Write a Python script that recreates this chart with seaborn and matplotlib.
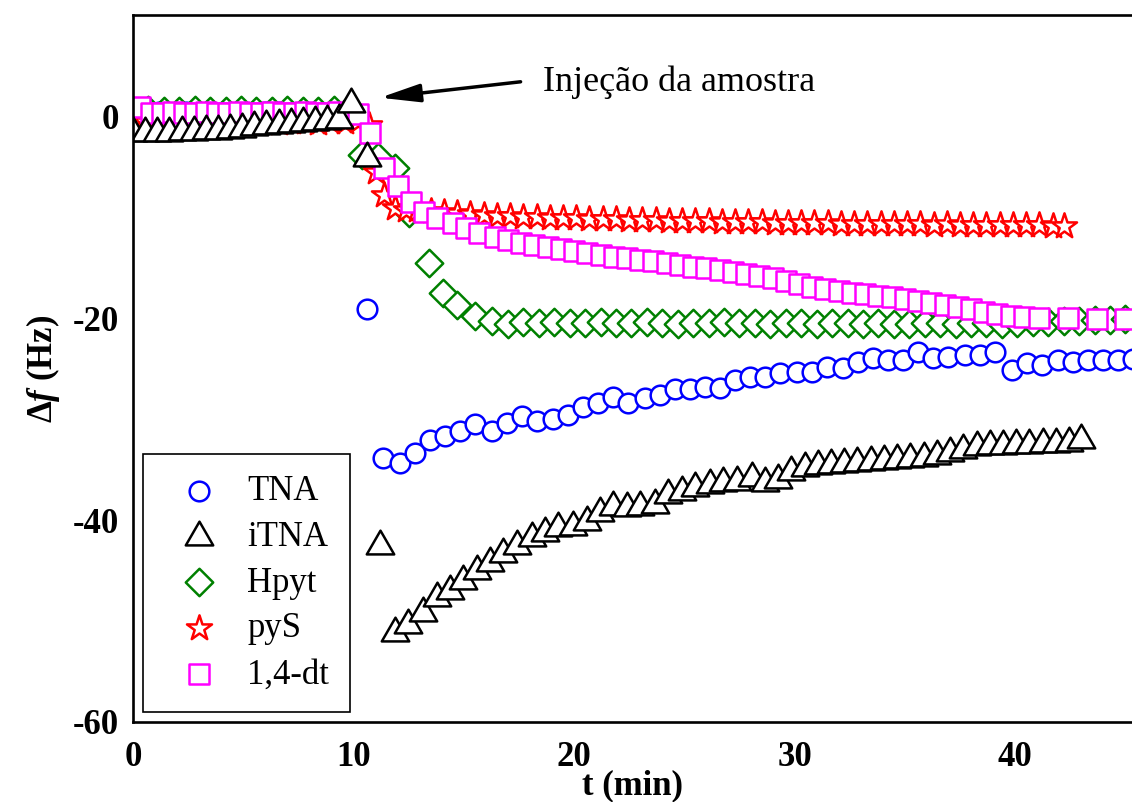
import numpy as np
import pandas as pd
import matplotlib
matplotlib.use("Agg")
import matplotlib.pyplot as plt
import seaborn as sns
from matplotlib.ticker import FixedLocator

# ---------------- data ----------------
tna_t = [0.0, 0.6, 1.2, 1.8, 2.4, 3.0, 3.6, 4.2, 4.8, 5.4, 6.0, 6.6, 7.2, 7.8, 8.4, 9.0, 9.6,
         10.6, 11.34, 12.1, 12.79, 13.47, 14.15, 14.83, 15.51, 16.28, 16.96, 17.64, 18.32, 19.05,
         19.73, 20.41, 21.09, 21.77, 22.45, 23.22, 23.9, 24.58, 25.26, 25.94, 26.62, 27.3, 27.98,
         28.66, 29.34, 30.11, 30.79, 31.47, 32.2, 32.88, 33.56, 34.24, 34.92, 35.6, 36.28, 36.96,
         37.73, 38.41, 39.09, 39.86, 40.54, 41.22, 41.95, 42.63, 43.31, 43.99, 44.67, 45.35]
tna_df = [0.4, 0.4, 0.5, 0.4, 0.5, 0.4, 0.5, 0.6, 0.5, 0.4, 0.5, 0.5, 0.4, 0.5, 0.4, 0.3, 0.2,
          -19.1, -33.8, -34.3, -33.3, -32.0, -31.6, -31.1, -30.5, -31.1, -30.4, -29.7, -30.2, -30.0,
          -29.6, -28.8, -28.4, -27.8, -28.4, -27.9, -27.6, -27.0, -27.0, -26.8, -26.9, -26.1, -25.8,
          -25.8, -25.4, -25.3, -25.3, -24.8, -24.9, -24.3, -23.9, -24.1, -24.1, -23.3, -23.9, -23.8,
          -23.6, -23.6, -23.3, -25.1, -24.4, -24.6, -24.1, -24.3, -24.1, -24.1, -24.1, -24.0]

itna_t = [0.0, 0.55, 1.1, 1.65, 2.2, 2.75, 3.3, 3.85, 4.4, 4.95, 5.5, 6.05, 6.6, 7.15, 7.7, 8.25,
          8.8, 9.35, 9.9, 10.6, 11.2, 11.88, 12.47, 13.15, 13.79, 14.38, 14.97, 15.6, 16.19, 16.78,
          17.41, 18.1, 18.68, 19.27, 19.95, 20.59, 21.18, 21.77, 22.4, 22.99, 23.67, 24.26, 24.9,
          25.49, 26.17, 26.76, 27.39, 28.07, 28.66, 29.25, 29.85, 30.45, 31.05, 31.65, 32.25, 32.85,
          33.45, 34.05, 34.65, 35.25, 35.85, 36.45, 37.05, 37.65, 38.25, 38.85, 39.45, 40.05, 40.65,
          41.25, 41.85, 42.45, 43.0]
itna_df = [-1.6, -1.6, -1.6, -1.6, -1.55, -1.5, -1.45, -1.4, -1.3, -1.2, -1.0, -0.9, -0.8, -0.7,
           -0.6, -0.5, -0.4, -0.3, 1.3, -4.1, -42.5, -51.2, -50.4, -49.2, -47.7, -47.0, -46.0, -45.0,
           -44.2, -43.3, -42.5, -41.8, -41.3, -40.8, -40.7, -40.2, -39.3, -38.7, -38.8, -38.7, -38.5,
           -37.5, -37.2, -36.8, -36.5, -36.3, -36.2, -35.8, -36.3, -36.0, -35.2, -34.8, -34.6, -34.5,
           -34.4, -34.3, -34.2, -34.1, -34.0, -33.9, -33.8, -33.6, -33.3, -33.0, -32.7, -32.6, -32.6,
           -32.5, -32.5, -32.4, -32.4, -32.3, -32.0]

hpyt_t = [0.0, 0.7, 1.4, 2.1, 2.8, 3.5, 4.2, 4.9, 5.6, 6.3, 7.0, 7.7, 8.4, 9.1, 9.7, 10.4, 11.1,
          11.9, 12.5, 13.4, 14.06, 14.7, 15.5, 16.3, 17.0, 17.7, 18.4, 19.1, 19.8, 20.5, 21.2, 21.9,
          22.6, 23.3, 24.0, 24.7, 25.4, 26.1, 26.8, 27.5, 28.2, 28.9, 29.6, 30.3, 31.0, 31.7, 32.4,
          33.1, 33.8, 34.5, 35.2, 35.9, 36.6, 37.3, 38.0, 38.7, 39.4, 40.1, 40.8, 41.5, 42.2, 42.9,
          43.6, 44.3, 45.0]
hpyt_df = [0.6, 0.7, 0.6, 0.6, 0.7, 0.6, 0.6, 0.7, 0.6, 0.6, 0.7, 0.6, 0.6, 0.7, 0.6, -3.8, -4.0,
           -5.1, -9.5, -14.5, -17.5, -18.7, -19.7, -20.2, -20.5, -20.3, -20.4, -20.3, -20.4, -20.4,
           -20.3, -20.4, -20.4, -20.3, -20.4, -20.5, -20.4, -20.4, -20.3, -20.4, -20.4, -20.5, -20.4,
           -20.4, -20.5, -20.4, -20.4, -20.5, -20.4, -20.5, -20.5, -20.4, -20.4, -20.5, -20.4, -20.4,
           -20.5, -20.4, -20.3, -20.3, -20.2, -20.2, -20.1, -20.1, -20.0]

pys_t = [0.0, 0.6, 1.2, 1.8, 2.4, 3.0, 3.6, 4.2, 4.8, 5.4, 6.0, 6.6, 7.2, 7.8, 8.4, 9.0, 9.6, 10.2,
         10.7, 11.0, 11.4, 11.9, 12.4, 12.9, 13.5, 14.1, 14.7, 15.3, 15.9, 16.5, 17.1, 17.7, 18.3,
         18.9, 19.5, 20.1, 20.7, 21.3, 21.9, 22.5, 23.1, 23.7, 24.3, 24.9, 25.5, 26.1, 26.7, 27.3,
         27.9, 28.5, 29.1, 29.7, 30.3, 30.9, 31.5, 32.1, 32.7, 33.3, 33.9, 34.5, 35.1, 35.7, 36.3,
         36.9, 37.5, 38.1, 38.7, 39.3, 39.9, 40.5, 41.1, 41.7, 42.2]
pys_df = [-0.5, -0.5, -0.6, -0.5, -0.5, -0.6, -0.5, -0.5, -0.6, -0.5, -0.5, -0.6, -0.5, -0.5,
          -0.6, -0.5, -0.5, -0.4, -0.8, -5.5, -7.7, -9.0, -9.2, -9.2, -9.3, -9.4, -9.5, -9.6, -9.7,
          -9.8, -9.8, -9.9, -9.9, -10.0, -10.0, -10.0, -10.1, -10.1, -10.1, -10.2, -10.2, -10.2,
          -10.3, -10.3, -10.3, -10.3, -10.4, -10.4, -10.4, -10.4, -10.5, -10.5, -10.5, -10.5, -10.5,
          -10.6, -10.6, -10.6, -10.6, -10.6, -10.6, -10.6, -10.7, -10.6, -10.7, -10.7, -10.7, -10.7,
          -10.7, -10.7, -10.7, -10.8, -10.8]

dt_t = [0.3, 0.8, 1.3, 1.8, 2.3, 2.8, 3.3, 3.8, 4.3, 4.8, 5.3, 5.8, 6.3, 6.8, 7.3, 7.8, 8.3, 8.8,
        9.3, 9.8, 10.2, 10.75, 11.4, 12.0, 12.6, 13.2, 13.8, 14.5, 15.1, 15.7, 16.4, 17.0, 17.6,
        18.2, 18.8, 19.4, 20.0, 20.6, 21.2, 21.8, 22.4, 23.0, 23.6, 24.2, 24.8, 25.4, 26.0, 26.6,
        27.2, 27.8, 28.4, 29.0, 29.6, 30.2, 30.8, 31.4, 32.0, 32.6, 33.2, 33.8, 34.4, 35.0, 35.6,
        36.2, 36.8, 37.4, 38.0, 38.6, 39.2, 39.8, 40.4, 41.1, 42.4, 43.7, 45.0]
dt_df = [1.0, 0.4, 0.4, 0.5, 0.4, 0.4, 0.5, 0.4, 0.4, 0.5, 0.4, 0.4, 0.5, 0.4, 0.4, 0.5, 0.4, 0.4,
         0.5, 0.4, 0.3, -1.6, -5.1, -6.9, -8.4, -9.4, -10.0, -10.5, -11.0, -11.5, -11.9, -12.2,
         -12.5, -12.7, -12.9, -13.1, -13.3, -13.5, -13.7, -13.9, -14.0, -14.2, -14.3, -14.5, -14.7,
         -14.9, -15.0, -15.2, -15.4, -15.6, -15.8, -16.0, -16.3, -16.6, -16.9, -17.1, -17.3, -17.5,
         -17.6, -17.8, -17.9, -18.1, -18.3, -18.5, -18.7, -18.9, -19.1, -19.3, -19.5, -19.7, -19.8,
         -19.9, -19.9, -20.0, -20.0]

series_names = ["TNA", "iTNA", "Hpyt", "pyS", "1,4-dt"]
x_major = [0, 10, 20, 30, 40]
x_minor = [5, 15, 25, 35]
y_major = [-60, -40, -20, 0]
y_minor = [-50, -30, -10]
annotation_text = "Injeção da amostra"

# ---------------- styling ----------------
sns.set_theme(style="white")
SERIF = "Liberation Serif"
plt.rcParams["font.family"] = [SERIF, "DejaVu Serif"]
plt.rcParams["text.color"] = "black"
plt.rcParams["axes.labelcolor"] = "black"
plt.rcParams["xtick.color"] = "black"
plt.rcParams["ytick.color"] = "black"
plt.rcParams["mathtext.fontset"] = "custom"
plt.rcParams["mathtext.rm"] = "Liberation Serif:bold"
plt.rcParams["mathtext.bf"] = "Liberation Serif:bold"
plt.rcParams["mathtext.it"] = "Liberation Serif:italic:bold"

fig = plt.figure(figsize=(11.32, 8.02), dpi=100)
ax = fig.add_axes([133 / 1132, 80 / 802, 1 - 133 / 1132, 707 / 802])

styles = {
    "TNA":    dict(data=(tna_t, tna_df),   marker="o",       s=200, color="#0000ff"),
    "iTNA":   dict(data=(itna_t, itna_df), marker=(3, 0, 0), s=520, color="#000000"),
    "Hpyt":   dict(data=(hpyt_t, hpyt_df), marker="D",       s=195, color="#008000"),
    "pyS":    dict(data=(pys_t, pys_df),   marker="*",       s=360, color="#ff0000"),
    "1,4-dt": dict(data=(dt_t, dt_df),     marker="s",       s=190, color="#ff00ff"),
}
draw_order = ["TNA", "Hpyt", "pyS", "1,4-dt", "iTNA"]
handles = {}
for name in draw_order:
    st = styles[name]
    t, v = st["data"]
    df = pd.DataFrame({"t": t, "v": v})
    sns.scatterplot(data=df, x="t", y="v", ax=ax, marker=st["marker"], s=st["s"],
                    color=st["color"], facecolor="white", edgecolor=st["color"],
                    linewidth=1.8, label=name, legend=False, clip_on=True)
    handles[name] = ax.collections[-1]

ax.set_xlim(0, 45.3)
ax.set_ylim(-60, 10.1)
ax.xaxis.set_major_locator(FixedLocator(x_major))
ax.xaxis.set_minor_locator(FixedLocator(x_minor))
ax.yaxis.set_major_locator(FixedLocator(y_major))
ax.yaxis.set_minor_locator(FixedLocator(y_minor))
ax.set_xticklabels([str(v) for v in x_major])
ax.set_yticklabels([str(v) for v in y_major])

ax.tick_params(axis="both", which="major", direction="in", length=9, width=1.8,
               labelsize=25, color="black", labelcolor="black")
ax.tick_params(axis="both", which="minor", direction="in", length=6, width=1.8, color="black")
ax.tick_params(axis="x", which="major", pad=14)
ax.tick_params(axis="y", which="major", pad=10)
ax.tick_params(top=False, right=False, which="both")
for lab in ax.get_xticklabels() + ax.get_yticklabels():
    lab.set_fontweight("bold")
    lab.set_family(SERIF)

for side in ["left", "bottom", "top"]:
    ax.spines[side].set_visible(True)
    ax.spines[side].set_color("black")
    ax.spines[side].set_linewidth(1.9)
ax.spines["right"].set_visible(False)

ax.set_xlabel("t (min)", fontsize=25, fontweight="bold", family=SERIF, labelpad=-4)
ax.set_ylabel(r"$\Delta\mathit{f}$ (Hz)", fontsize=25, fontweight="bold", family=SERIF, labelpad=8)

ax.annotate(annotation_text, xy=(11.2, 1.9), xytext=(18.6, 3.4), fontsize=26, family=SERIF,
            ha="left", va="center", color="black",
            arrowprops=dict(arrowstyle="-|>,head_length=1.1,head_width=0.25", color="black",
                            lw=2.5, mutation_scale=22, shrinkA=14, shrinkB=0,
                            relpos=(0.0, 0.6)))

leg = ax.legend([handles[n] for n in series_names], series_names, loc="lower left",
                bbox_to_anchor=(0.01, 0.014), borderaxespad=0, frameon=True, fancybox=False,
                edgecolor="black", framealpha=1, scatterpoints=1,
                prop={"family": SERIF, "size": 25}, labelspacing=0.37, handletextpad=0.4,
                borderpad=0.6, handlelength=2.0)
leg.get_frame().set_linewidth(1.2)
for txt in leg.get_texts():
    txt.set_color("black")

fig.savefig("out.png", dpi=100)
